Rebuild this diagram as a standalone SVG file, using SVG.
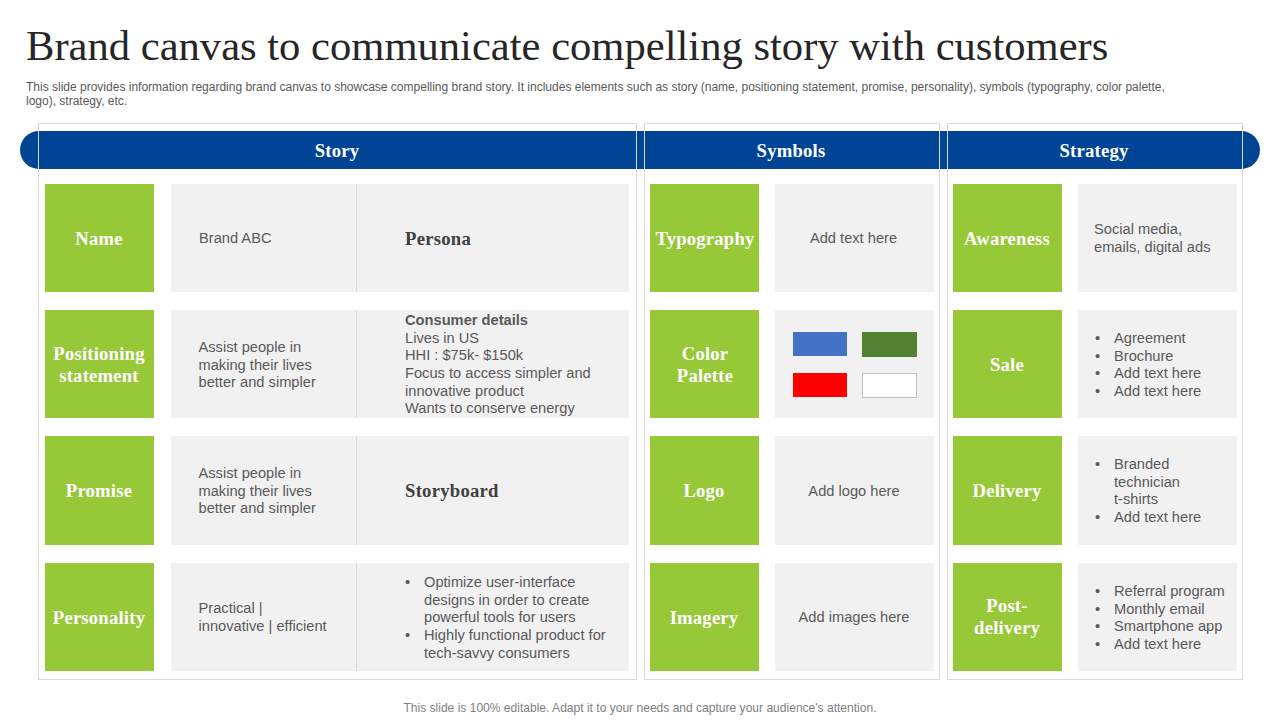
<svg xmlns="http://www.w3.org/2000/svg" width="1280" height="720" viewBox="0 0 1280 720">
<style>
text{font-family:"Liberation Sans",Arial,sans-serif;fill:#595959;font-size:14.67px}
.h{font-family:"Liberation Serif","Times New Roman",serif;font-weight:700;fill:#fff;font-size:18.67px;letter-spacing:.2px;text-anchor:middle}
.g{fill:#97c837}
.c{fill:#f1f1f1}
.o{fill:none;stroke:#d9d9d9;stroke-width:1}
.m{text-anchor:middle}
.d{stroke:#d9d9d9;stroke-width:1}
.s{font-family:"Liberation Serif","Times New Roman",serif;font-weight:700;fill:#404040;font-size:18.67px;letter-spacing:.25px}
</style>
<rect width="1280" height="720" fill="#fff"/>
<text x="26" y="60" style="font-family:'Liberation Serif',serif;font-size:42.6px;fill:#262626">Brand canvas to communicate compelling story with customers</text>
<text x="26" y="91" style="font-size:12px">This slide provides information regarding brand canvas to showcase compelling brand story. It includes elements such as story (name, positioning statement, promise, personality), symbols (typography, color palette,</text>
<text x="26" y="105" style="font-size:12px">logo), strategy, etc.</text>
<g id="header"><rect x="20" y="131" width="1240" height="38" rx="19" fill="#004595"/>
<text class="h" x="337" y="157">Story</text><text class="h" x="791" y="157">Symbols</text><text class="h" x="1094" y="157">Strategy</text></g>
<g id="frames"><rect class="o" x="38.500" y="123.500" width="598" height="556"/><rect class="o" x="644.500" y="123.500" width="295" height="556"/><rect class="o" x="947.500" y="123.500" width="295" height="556"/></g>
<g id="story-name"><rect class="g" x="45" y="184" width="109" height="108"/><text class="h" x="99" y="245">Name</text><rect class="c" x="171" y="184" width="458" height="108"/><line class="d" x1="356.500" y1="184" x2="356.500" y2="292"/><text x="199" y="243">Brand ABC</text><text class="s" x="405" y="245">Persona</text></g>
<g id="story-positioning"><rect class="g" x="45" y="310" width="109" height="108"/><text class="h" x="99" y="360">Positioning</text><text class="h" x="99" y="382">statement</text><rect class="c" x="171" y="310" width="458" height="108"/><line class="d" x1="356.500" y1="310" x2="356.500" y2="418"/><text x="198.500" y="352">Assist people in</text><text x="198.500" y="370">making their lives</text><text x="198.500" y="387">better and simpler</text><text x="405" y="325" style="font-weight:700">Consumer details</text><text x="405" y="343">Lives in US</text><text x="405" y="360">HHI : $75k- $150k</text><text x="405" y="378">Focus to access simpler and</text><text x="405" y="396">innovative product</text><text x="405" y="413">Wants to conserve energy</text></g>
<g id="story-promise"><rect class="g" x="45" y="436" width="109" height="109"/><text class="h" x="99" y="497">Promise</text><rect class="c" x="171" y="436" width="458" height="109"/><line class="d" x1="356.500" y1="436" x2="356.500" y2="545"/><text x="198.500" y="478">Assist people in</text><text x="198.500" y="496">making their lives</text><text x="198.500" y="513">better and simpler</text><text class="s" x="405" y="497">Storyboard</text></g>
<g id="story-personality"><rect class="g" x="45" y="563" width="109" height="108"/><text class="h" x="99" y="624">Personality</text><rect class="c" x="171" y="563" width="458" height="108"/><line class="d" x1="356.500" y1="563" x2="356.500" y2="671"/><text x="198.500" y="613">Practical |</text><text x="198.500" y="631">innovative | efficient</text><text x="405" y="587">•</text><text x="424" y="587">Optimize user-interface</text><text x="424" y="605">designs in order to create</text><text x="424" y="622">powerful tools for users</text><text x="405" y="640">•</text><text x="424" y="640">Highly functional product for</text><text x="424" y="658">tech-savvy consumers</text></g>
<g id="sym-typography"><rect class="g" x="650" y="184" width="109" height="108"/><text class="h" x="705" y="245">Typography</text><rect class="c" x="775" y="184" width="159" height="108"/><text class="m" x="853.500" y="243">Add text here</text></g>
<g id="sym-color"><rect class="g" x="650" y="310" width="109" height="108"/><text class="h" x="705" y="360">Color</text><text class="h" x="705" y="382">Palette</text><rect class="c" x="775" y="310" width="159" height="108"/><rect x="793" y="332" width="54" height="24" fill="#4472c4"/><rect x="862" y="332" width="55" height="25" fill="#548235"/><rect x="793" y="373" width="54" height="24" fill="#f00"/><rect x="862.500" y="373.500" width="54" height="24" fill="#fff" stroke="#bfbfbf"/></g>
<g id="sym-logo"><rect class="g" x="650" y="436" width="109" height="109"/><text class="h" x="704" y="497">Logo</text><rect class="c" x="775" y="436" width="159" height="109"/><text class="m" x="854" y="496">Add logo here</text></g>
<g id="sym-imagery"><rect class="g" x="650" y="563" width="109" height="108"/><text class="h" x="704" y="624">Imagery</text><rect class="c" x="775" y="563" width="159" height="108"/><text class="m" x="854" y="622">Add images here</text></g>
<g id="str-awareness"><rect class="g" x="953" y="184" width="109" height="108"/><text class="h" x="1007" y="245">Awareness</text><rect class="c" x="1078" y="184" width="159" height="108"/><text x="1094" y="234">Social media,</text><text x="1094" y="252">emails, digital ads</text></g>
<g id="str-sale"><rect class="g" x="953" y="310" width="109" height="108"/><text class="h" x="1007" y="371">Sale</text><rect class="c" x="1078" y="310" width="159" height="108"/><text x="1095" y="343">•</text><text x="1114" y="343">Agreement</text><text x="1095" y="361">•</text><text x="1114" y="361">Brochure</text><text x="1095" y="378">•</text><text x="1114" y="378">Add text here</text><text x="1095" y="396">•</text><text x="1114" y="396">Add text here</text></g>
<g id="str-delivery"><rect class="g" x="953" y="436" width="109" height="109"/><text class="h" x="1007" y="497">Delivery</text><rect class="c" x="1078" y="436" width="159" height="109"/><text x="1095" y="469">•</text><text x="1114" y="469">Branded</text><text x="1114" y="487">technician</text><text x="1114" y="504">t-shirts</text><text x="1095" y="522">•</text><text x="1114" y="522">Add text here</text></g>
<g id="str-post"><rect class="g" x="953" y="563" width="109" height="108"/><text class="h" x="1007" y="612">Post-</text><text class="h" x="1007" y="634">delivery</text><rect class="c" x="1078" y="563" width="159" height="108"/><text x="1095" y="596">•</text><text x="1114" y="596">Referral program</text><text x="1095" y="614">•</text><text x="1114" y="614">Monthly email</text><text x="1095" y="631">•</text><text x="1114" y="631">Smartphone app</text><text x="1095" y="649">•</text><text x="1114" y="649">Add text here</text></g>
<text x="640" y="712" text-anchor="middle" style="font-size:12.05px;fill:#808080">This slide is 100% editable. Adapt it to your needs and capture your audience's attention.</text>
</svg>
